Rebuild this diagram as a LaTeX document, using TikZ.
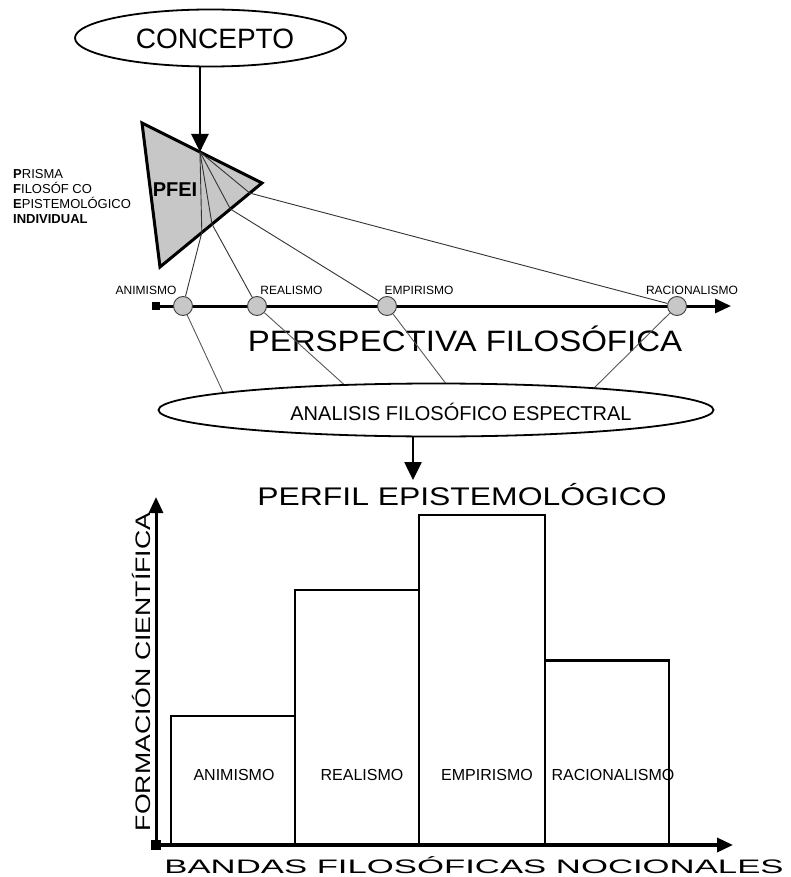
\documentclass[tikz,border=0pt]{standalone}
\usepackage{fontspec}
\setmainfont{Liberation Sans}
\usetikzlibrary{arrows.meta,calc,shapes.geometric}
\newcommand{\myfs}[1]{\fontsize{#1}{#1}\selectfont}
\begin{document}
\begin{tikzpicture}[x=1pt,y=-1pt,
  oval/.style={ellipse, draw, line width=1.8pt, inner sep=0pt},
  bigtip/.style={line width=2.6pt, -{Triangle[length=18pt,width=17pt]}},
  axis/.style={line width=3pt, -{Triangle[length=16pt,width=14pt]}},
  sqnode/.style={fill, inner sep=0pt},
  dot/.style={circle, draw=black!75, fill=black!22, line width=0.9pt, minimum size=19pt, inner sep=0pt},
  ray/.style={line width=0.9pt, black!80},
  lowray/.style={line width=0.9pt, black!65},
  bar/.style={draw, line width=2.2pt},
  smalllab/.style={anchor=base, font=\myfs{12}},
  barlab/.style={anchor=base, font=\myfs{16}},
  leftlab/.style={anchor=base west, inner sep=0pt, font=\myfs{13}}
]
\useasboundingbox (0,0) rectangle (790,877);
\fill[white] (0,0) rectangle (790,877);

% concept
\node[oval, minimum width=271pt, minimum height=57pt] (concepto) at (210.5,38) {};
\node[anchor=base, font=\myfs{28}] (conceptotxt) at (215,49) {CONCEPTO};

% prism
\coordinate (TL) at (142,123);
\coordinate (TR) at (262,183);
\coordinate (TB) at (160,267);
\coordinate (apex) at ($(TL)!0.483!(TR)$);
\draw[line width=3pt, fill=black!22, line join=miter] (TL) -- (TR) -- (TB) -- cycle;
\draw[bigtip] (concepto.south -| apex) -- (apex);
\coordinate (e1) at ($(TR)!0.59!(TB)$);
\coordinate (e2) at ($(TR)!0.49!(TB)$);
\coordinate (e3) at ($(TR)!0.31!(TB)$);
\coordinate (e4) at ($(TR)!0.12!(TB)$);
\node[anchor=base, inner sep=0pt, font=\myfs{20}\bfseries] (pfei) at (175,196.5) {PFEI};

% left text
\node[leftlab] (p1) at (13,179) {\textbf{P}RISMA};
\node[leftlab] (p2) at (13,194) {\textbf{F}ILOSÓF CO};
\node[leftlab] (p3) at (13,208.7) {\textbf{E}PISTEMOLÓGICO};
\node[leftlab] (p4) at (13,223.5) {\textbf{INDIVIDUAL}};

% perspective axis
\node[sqnode, minimum size=8pt] (sq1) at (156,306) {};
\coordinate (ax1end) at (731,306);
\draw[axis] (sq1.center) -- (ax1end);
\node[dot] (c1) at (183,306) {};
\node[dot] (c2) at (257,306) {};
\node[dot] (c3) at (387,306) {};
\node[dot] (c4) at (677,306) {};
\node[smalllab] (lab1) at (146,294) {ANIMISMO};
\node[smalllab] (lab2) at (291.5,294) {REALISMO};
\node[smalllab] (lab3) at (419,294) {EMPIRISMO};
\node[smalllab] (lab4) at (692,294) {RACIONALISMO};
\node[anchor=base, font=\myfs{29.5}] (persp) at (465,351) {\scalebox{1.12}[1]{PERSPECTIVA FILOSÓFICA}};

% rays through prism
\draw[ray] (apex) -- (e1) -- (c1);
\draw[ray] (apex) -- (e2) -- (c2);
\draw[ray] (apex) -- (e3) -- (c3);
\draw[ray] (apex) -- (e4) -- (c4);

% lines to spectral analysis
\coordinate (l1) at (224.5,395.4);
\coordinate (l2) at (349,389);
\coordinate (l3) at (450,389);
\coordinate (l4) at (589,393);
\draw[lowray] (c1) -- (l1);
\draw[lowray] (c2) -- (l2);
\draw[lowray] (c3) -- (l3);
\draw[lowray] (c4) -- (l4);
\node[oval, fill=white, minimum width=555pt, minimum height=53pt] (afe) at (436,410) {};
\node[anchor=base, font=\myfs{20}] (afetxt) at (461,420) {ANALISIS FILOSÓFICO ESPECTRAL};

\coordinate (perfiltip) at (413,480);
\draw[bigtip] (afe.south -| perfiltip) -- (perfiltip);
\node[anchor=base, font=\myfs{25.5}] (perfil) at (462,505) {\scalebox{1.25}[1]{PERFIL EPISTEMOLÓGICO}};

% bar chart
\draw[bar] (171,845) rectangle (295,716);
\draw[bar] (295,845) rectangle (419,590);
\draw[bar] (419,845) rectangle (545,515);
\draw[bar] (545,845) rectangle (669,660.5);
\node[barlab] (b1) at (234,780) {ANIMISMO};
\node[barlab] (b2) at (362,780) {REALISMO};
\node[barlab] (b3) at (487,780) {EMPIRISMO};
\node[barlab] (b4) at (613,780) {RACIONALISMO};

\node[sqnode, minimum size=10pt] (sq2) at (156,845) {};
\coordinate (ytip) at (156,497);
\coordinate (xtip) at (733,845);
\draw[axis] (sq2.center) -- (ytip);
\draw[axis, line width=3.5pt] (sq2.center) -- (xtip);
\node[rotate=90, anchor=base, font=\myfs{21}] (ylab) at (150.5,672) {\scalebox{1.27}[1]{FORMACIÓN CIENTÍFICA}};
\node[anchor=base, inner sep=0pt, font=\myfs{19.5}] (xlab) at (474,873) {\scalebox{1.78}[1]{BANDAS FILOSÓFICAS NOCIONALES}};
\end{tikzpicture}
\end{document}
